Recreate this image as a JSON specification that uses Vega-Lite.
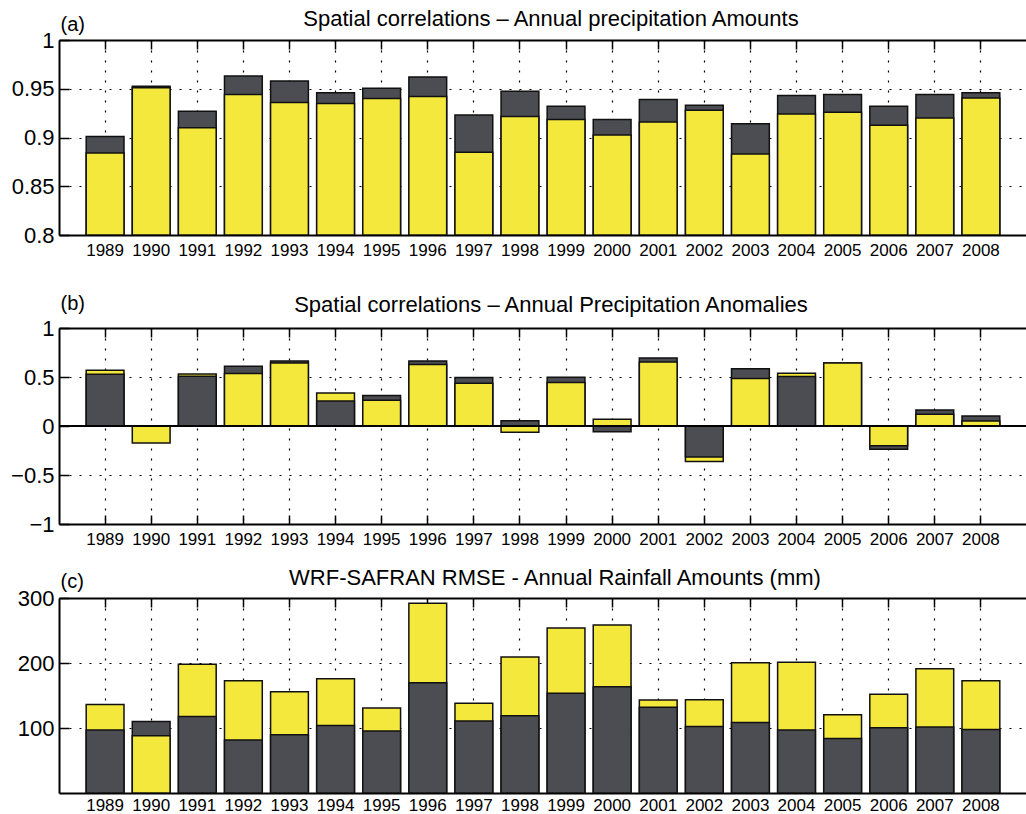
{
  "$schema": "https://vega.github.io/schema/vega-lite/v6.json",
  "padding": {"left": 10, "top": 8, "right": 0, "bottom": 0},
  "background": "white",
  "config": {
    "font": "Liberation Sans",
    "view": {"stroke": null},
    "title": {"fontSize": 22, "fontWeight": "normal", "color": "black", "baseline": "alphabetic", "font": "Liberation Sans", "frame": "group"},
    "axis": {
      "labelColor": "black", "labelFont": "Liberation Sans",
      "tickColor": "black", "tickWidth": 1.5,
      "domainColor": "black", "domainWidth": 2,
      "gridColor": "black", "gridDash": [2, 8], "gridWidth": 1.2, "gridOpacity": 1
    }
  },
  "datasets": {
    "a": [
      {"year": "1989", "series": "dark", "value": 0.901}, {"year": "1989", "series": "yellow", "value": 0.884},
      {"year": "1990", "series": "dark", "value": 0.9525}, {"year": "1990", "series": "yellow", "value": 0.951},
      {"year": "1991", "series": "dark", "value": 0.927}, {"year": "1991", "series": "yellow", "value": 0.910},
      {"year": "1992", "series": "dark", "value": 0.963}, {"year": "1992", "series": "yellow", "value": 0.944},
      {"year": "1993", "series": "dark", "value": 0.958}, {"year": "1993", "series": "yellow", "value": 0.936},
      {"year": "1994", "series": "dark", "value": 0.946}, {"year": "1994", "series": "yellow", "value": 0.935},
      {"year": "1995", "series": "dark", "value": 0.9505}, {"year": "1995", "series": "yellow", "value": 0.940},
      {"year": "1996", "series": "dark", "value": 0.962}, {"year": "1996", "series": "yellow", "value": 0.942},
      {"year": "1997", "series": "dark", "value": 0.923}, {"year": "1997", "series": "yellow", "value": 0.885},
      {"year": "1998", "series": "dark", "value": 0.9475}, {"year": "1998", "series": "yellow", "value": 0.9215},
      {"year": "1999", "series": "dark", "value": 0.932}, {"year": "1999", "series": "yellow", "value": 0.9185},
      {"year": "2000", "series": "dark", "value": 0.9185}, {"year": "2000", "series": "yellow", "value": 0.9025},
      {"year": "2001", "series": "dark", "value": 0.939}, {"year": "2001", "series": "yellow", "value": 0.916},
      {"year": "2002", "series": "dark", "value": 0.933}, {"year": "2002", "series": "yellow", "value": 0.928},
      {"year": "2003", "series": "dark", "value": 0.914}, {"year": "2003", "series": "yellow", "value": 0.883},
      {"year": "2004", "series": "dark", "value": 0.943}, {"year": "2004", "series": "yellow", "value": 0.924},
      {"year": "2005", "series": "dark", "value": 0.944}, {"year": "2005", "series": "yellow", "value": 0.926},
      {"year": "2006", "series": "dark", "value": 0.932}, {"year": "2006", "series": "yellow", "value": 0.9125},
      {"year": "2007", "series": "dark", "value": 0.944}, {"year": "2007", "series": "yellow", "value": 0.920},
      {"year": "2008", "series": "dark", "value": 0.946}, {"year": "2008", "series": "yellow", "value": 0.9405}
    ],
    "b": [
      {"year": "1989", "series": "yellow", "value": 0.569}, {"year": "1989", "series": "dark", "value": 0.528},
      {"year": "1990", "series": "yellow", "value": -0.174}, {"year": "1990", "series": "dark", "value": 0.0},
      {"year": "1991", "series": "yellow", "value": 0.531}, {"year": "1991", "series": "dark", "value": 0.508},
      {"year": "1992", "series": "dark", "value": 0.61}, {"year": "1992", "series": "yellow", "value": 0.535},
      {"year": "1993", "series": "dark", "value": 0.664}, {"year": "1993", "series": "yellow", "value": 0.644},
      {"year": "1994", "series": "yellow", "value": 0.337}, {"year": "1994", "series": "dark", "value": 0.256},
      {"year": "1995", "series": "dark", "value": 0.31}, {"year": "1995", "series": "yellow", "value": 0.262},
      {"year": "1996", "series": "dark", "value": 0.664}, {"year": "1996", "series": "yellow", "value": 0.627},
      {"year": "1997", "series": "dark", "value": 0.494}, {"year": "1997", "series": "yellow", "value": 0.436},
      {"year": "1998", "series": "dark", "value": 0.0545}, {"year": "1998", "series": "yellow", "value": -0.065},
      {"year": "1999", "series": "dark", "value": 0.497}, {"year": "1999", "series": "yellow", "value": 0.443},
      {"year": "2000", "series": "dark", "value": -0.058}, {"year": "2000", "series": "yellow", "value": 0.068},
      {"year": "2001", "series": "dark", "value": 0.695}, {"year": "2001", "series": "yellow", "value": 0.654},
      {"year": "2002", "series": "yellow", "value": -0.361}, {"year": "2002", "series": "dark", "value": -0.317},
      {"year": "2003", "series": "dark", "value": 0.583}, {"year": "2003", "series": "yellow", "value": 0.484},
      {"year": "2004", "series": "yellow", "value": 0.538}, {"year": "2004", "series": "dark", "value": 0.504},
      {"year": "2005", "series": "dark", "value": 0.644}, {"year": "2005", "series": "yellow", "value": 0.644},
      {"year": "2006", "series": "dark", "value": -0.2385}, {"year": "2006", "series": "yellow", "value": -0.201},
      {"year": "2007", "series": "dark", "value": 0.1635}, {"year": "2007", "series": "yellow", "value": 0.119},
      {"year": "2008", "series": "dark", "value": 0.102}, {"year": "2008", "series": "yellow", "value": 0.051}
    ],
    "c": [
      {"year": "1989", "series": "yellow", "value": 136.2}, {"year": "1989", "series": "dark", "value": 96.8},
      {"year": "1990", "series": "dark", "value": 110.1}, {"year": "1990", "series": "yellow", "value": 88.1},
      {"year": "1991", "series": "yellow", "value": 198.2}, {"year": "1991", "series": "dark", "value": 117.8},
      {"year": "1992", "series": "yellow", "value": 172.6}, {"year": "1992", "series": "dark", "value": 81.4},
      {"year": "1993", "series": "yellow", "value": 155.7}, {"year": "1993", "series": "dark", "value": 89.6},
      {"year": "1994", "series": "yellow", "value": 175.6}, {"year": "1994", "series": "dark", "value": 103.9},
      {"year": "1995", "series": "yellow", "value": 130.6}, {"year": "1995", "series": "dark", "value": 95.2},
      {"year": "1996", "series": "yellow", "value": 291.9}, {"year": "1996", "series": "dark", "value": 169.5},
      {"year": "1997", "series": "yellow", "value": 138.2}, {"year": "1997", "series": "dark", "value": 110.6},
      {"year": "1998", "series": "yellow", "value": 209.4}, {"year": "1998", "series": "dark", "value": 118.8},
      {"year": "1999", "series": "yellow", "value": 254.0}, {"year": "1999", "series": "dark", "value": 153.6},
      {"year": "2000", "series": "yellow", "value": 258.6}, {"year": "2000", "series": "dark", "value": 163.3},
      {"year": "2001", "series": "yellow", "value": 142.9}, {"year": "2001", "series": "dark", "value": 132.1},
      {"year": "2002", "series": "yellow", "value": 143.4}, {"year": "2002", "series": "dark", "value": 102.4},
      {"year": "2003", "series": "yellow", "value": 200.2}, {"year": "2003", "series": "dark", "value": 108.5},
      {"year": "2004", "series": "yellow", "value": 201.2}, {"year": "2004", "series": "dark", "value": 96.8},
      {"year": "2005", "series": "yellow", "value": 120.3}, {"year": "2005", "series": "dark", "value": 84.0},
      {"year": "2006", "series": "yellow", "value": 152.1}, {"year": "2006", "series": "dark", "value": 100.4},
      {"year": "2007", "series": "yellow", "value": 191.0}, {"year": "2007", "series": "dark", "value": 101.4},
      {"year": "2008", "series": "yellow", "value": 172.6}, {"year": "2008", "series": "dark", "value": 97.8}
    ]
  },
  "spacing": 35,
  "vconcat": [
    {
      "width": 968, "height": 195,
      "title": {"text": "Spatial correlations – Annual precipitation Amounts", "offset": -17, "dx": 8},
      "data": {"name": "a"},
      "layer": [
        {
          "mark": {"type": "bar", "stroke": "#111", "strokeWidth": 1.5, "clip": true},
          "encoding": {
            "x": {"field": "year", "type": "ordinal", "scale": {"paddingInner": 0.18, "paddingOuter": 0.59},
                  "axis": {"orient": "bottom", "title": null, "labelAngle": 0, "labelFontSize": 17, "tickSize": -9, "labelPadding": 16, "grid": true, "domain": true}},
            "y": {"field": "value", "type": "quantitative", "stack": null, "scale": {"domain": [0.8, 1], "nice": false, "zero": false},
                  "axis": {"values": [0.8, 0.85, 0.9, 0.95, 1], "format": "~r", "labelFontSize": 22, "tickSize": -10, "labelPadding": 15, "grid": true,
                           "title": "(a)", "titleAngle": 0, "titleAlign": "left", "titleBaseline": "alphabetic", "titleX": 1, "titleY": -10, "titleFontSize": 20, "titleFontWeight": "normal", "titleColor": "black"}},
            "color": {"field": "series", "type": "nominal", "scale": {"domain": ["dark", "yellow"], "range": ["#4c4d52", "#f5e83d"]}, "legend": null}
          }
        },
        {
          "mark": {"type": "bar", "opacity": 0},
          "encoding": {
            "x": {"field": "year", "type": "ordinal", "axis": {"orient": "top", "title": null, "labels": false, "tickSize": -9, "grid": false, "domain": true}}
          }
        }
      ],
      "resolve": {"axis": {"x": "independent"}}
    },
    {
      "spacing": 20,
      "vconcat": [
        {
          "width": 968, "height": 196,
          "title": {"text": "Spatial correlations – Annual Precipitation Anomalies", "offset": -24, "dx": 8},
          "data": {"name": "b"},
          "layer": [
            {
              "mark": {"type": "bar", "stroke": "#111", "strokeWidth": 1.5, "clip": true},
              "encoding": {
                "x": {"field": "year", "type": "ordinal", "scale": {"paddingInner": 0.18, "paddingOuter": 0.59},
                      "axis": {"orient": "bottom", "title": null, "labelAngle": 0, "labelFontSize": 17, "tickSize": -9, "labelPadding": 16, "grid": true, "domain": true}},
                "y": {"field": "value", "type": "quantitative", "stack": null, "scale": {"domain": [-1, 1], "nice": false},
                      "axis": {"values": [-1, -0.5, 0, 0.5, 1], "format": "~r", "labelFontSize": 22, "tickSize": -10, "labelPadding": 15, "grid": true,
                               "title": "(b)", "titleAngle": 0, "titleAlign": "left", "titleBaseline": "alphabetic", "titleX": 1, "titleY": -19, "titleFontSize": 20, "titleFontWeight": "normal", "titleColor": "black"}},
                "color": {"field": "series", "type": "nominal", "scale": {"domain": ["dark", "yellow"], "range": ["#4c4d52", "#f5e83d"]}, "legend": null}
              }
            },
            {
              "mark": {"type": "rule", "color": "black", "strokeWidth": 1.5},
              "encoding": {"y": {"datum": 0}}
            },
            {
              "mark": {"type": "bar", "opacity": 0},
              "encoding": {
                "x": {"field": "year", "type": "ordinal", "axis": {"orient": "top", "title": null, "labels": false, "tickSize": -9, "grid": false, "domain": true}}
              }
            }
          ],
          "resolve": {"axis": {"x": "independent"}}
        },
        {
          "width": 968, "height": 195,
          "title": {"text": "WRF-SAFRAN RMSE - Annual Rainfall Amounts (mm)", "offset": -19, "dx": 12},
          "data": {"name": "c"},
          "layer": [
            {
              "mark": {"type": "bar", "stroke": "#111", "strokeWidth": 1.5, "clip": true},
              "encoding": {
                "x": {"field": "year", "type": "ordinal", "scale": {"paddingInner": 0.18, "paddingOuter": 0.59},
                      "axis": {"orient": "bottom", "title": null, "labelAngle": 0, "labelFontSize": 17, "tickSize": -9, "labelPadding": 13, "grid": true, "domain": true}},
                "y": {"field": "value", "type": "quantitative", "stack": null, "scale": {"domain": [0, 300], "nice": false},
                      "axis": {"values": [100, 200, 300], "format": "d", "labelFontSize": 22, "tickSize": -10, "labelPadding": 15, "grid": true,
                               "title": "(c)", "titleAngle": 0, "titleAlign": "left", "titleBaseline": "alphabetic", "titleX": 1, "titleY": -11, "titleFontSize": 20, "titleFontWeight": "normal", "titleColor": "black"}},
                "color": {"field": "series", "type": "nominal", "scale": {"domain": ["dark", "yellow"], "range": ["#4c4d52", "#f5e83d"]}, "legend": null}
              }
            },
            {
              "mark": {"type": "bar", "opacity": 0},
              "encoding": {
                "x": {"field": "year", "type": "ordinal", "axis": {"orient": "top", "title": null, "labels": false, "tickSize": -9, "grid": false, "domain": true}}
              }
            }
          ],
          "resolve": {"axis": {"x": "independent"}}
        }
      ]
    }
  ]
}
